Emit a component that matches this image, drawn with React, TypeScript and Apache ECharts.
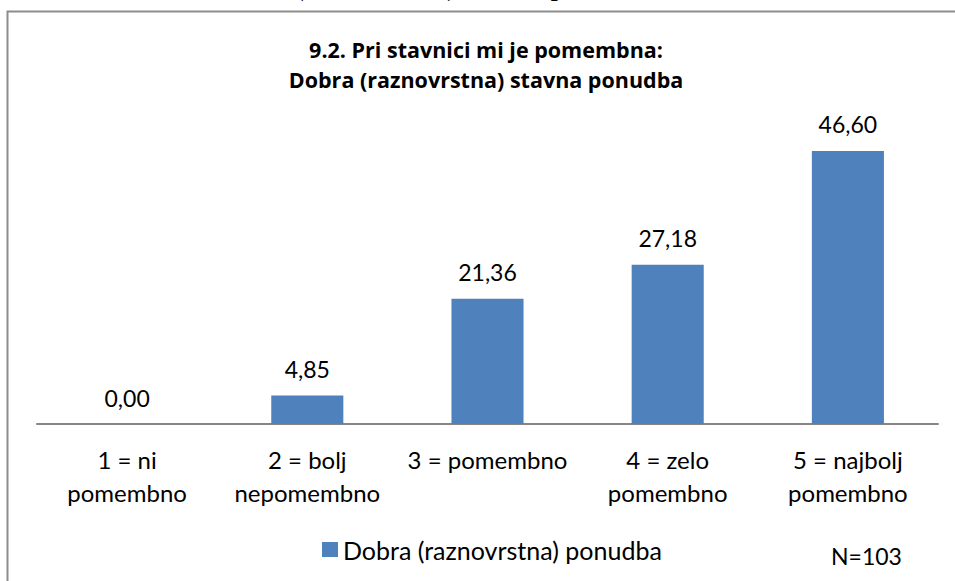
import React, { useEffect, useRef } from "react";
import * as echarts from "echarts";

const categories = [
  "1 = ni\npomembno",
  "2 = bolj\nnepomembno",
  "3 = pomembno",
  "4 = zelo\npomembno",
  "5 = najbolj\npomembno",
];
const seriesName = "Dobra (raznovrstna) ponudba";
const values = [0.0, 4.85, 21.36, 27.18, 46.6];
const titleLines = ["9.2. Pri stavnici mi je pomembna:", "Dobra (raznovrstna) stavna ponudba"];
const noteText = "N=103";
const captionText = "(raznovrstna) stavna ponudba";

const FONT = "Lato, 'Open Sans', sans-serif";
const TITLE_FONT = "'Open Sans', Lato, sans-serif";

export default function App() {
  const ref = useRef<HTMLDivElement>(null);
  useEffect(() => {
    if (!ref.current) return;
    const chart = echarts.init(ref.current, null, { renderer: "svg" });
    chart.setOption({
      animation: false,
      backgroundColor: "#ffffff",
      textStyle: { fontFamily: FONT, color: "#000" },
      title: {
        text: titleLines.join("\n"),
        left: 486,
        textAlign: "center",
        top: 35,
        padding: 0,
        textStyle: {
          fontFamily: TITLE_FONT,
          fontSize: 21.5,
          fontWeight: "bold",
          color: "#000",
          lineHeight: 29.5,
        },
      },
      grid: { left: 37, right: 17, top: 131, bottom: 157, containLabel: false },
      xAxis: {
        type: "category",
        data: categories,
        axisLine: { show: true, lineStyle: { color: "#868686", width: 2 } },
        axisTick: { show: false },
        axisLabel: {
          interval: 0,
          fontFamily: FONT,
          fontSize: 24,
          color: "#000",
          lineHeight: 33,
          margin: 19,
        },
      },
      yAxis: {
        type: "value",
        min: 0,
        max: 50,
        interval: 10,
        show: false,
        splitLine: { show: false },
      },
      legend: {
        data: [seriesName],
        left: 322,
        top: 537,
        padding: 0,
        icon: "rect",
        itemWidth: 16,
        itemHeight: 15,
        itemGap: 5,
        textStyle: { fontFamily: FONT, fontSize: 25, color: "#000", padding: [0, 0, 0, 0] },
      },
      series: [
        {
          name: seriesName,
          type: "bar",
          data: values,
          barWidth: "40%",
          itemStyle: { color: "#4F81BD" },
          label: {
            show: true,
            position: "top",
            distance: 15,
            fontFamily: FONT,
            fontSize: 23,
            color: "#000",
            formatter: (p: any) => Number(p.value).toFixed(2).replace(".", ","),
          },
        },
      ],
      graphic: [
        {
          type: "polyline",
          shape: { points: [[955, 11.5], [7.5, 11.5], [7.5, 581]] },
          style: { stroke: "#8c8c8c", lineWidth: 2, fill: "none" },
        },
        {
          type: "text",
          x: 296,
          y: -16,
          style: {
            text: captionText,
            fontFamily: "'Liberation Serif', serif",
            fontStyle: "italic",
            fontSize: 30,
            fill: "#000",
            verticalAlign: "middle",
          },
        },
        {
          type: "text",
          x: 831,
          y: 556,
          style: {
            text: noteText,
            fontFamily: FONT,
            fontSize: 23,
            fill: "#000",
            verticalAlign: "middle",
          },
        },
      ],
    });
    return () => chart.dispose();
  }, []);
  return (
    <div
      ref={ref}
      style={{ position: "fixed", left: 0, top: 0, width: 955, height: 581, overflow: "hidden" }}
    />
  );
}
